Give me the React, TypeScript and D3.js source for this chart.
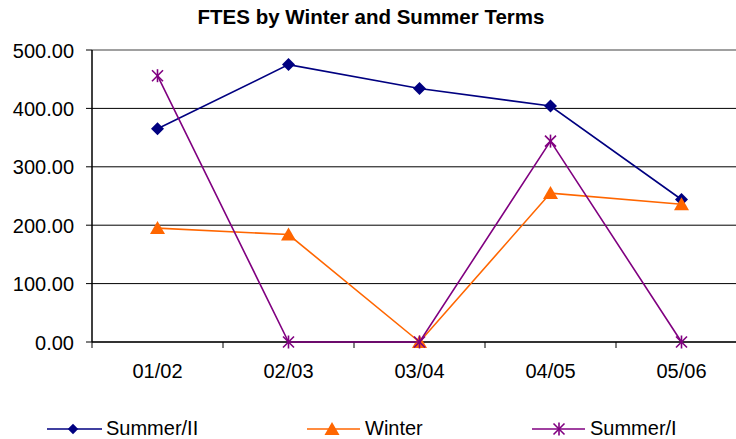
import React from "react";
import * as d3 from "d3";

const categories = ["01/02", "02/03", "03/04", "04/05", "05/06"];
const summerII = [365, 475, 434, 404, 244];
const winter = [195, 184, 0, 255, 236];
const summerI = [456, 0, 0, 344, 0];
const yTicks = [0, 100, 200, 300, 400, 500];
const seriesNames = ["Summer/II", "Winter", "Summer/I"];
const title = "FTES by Winter and Summer Terms";

const W = 736;
const H = 439;
const FONT = "Arial, 'Liberation Sans', sans-serif";

function Marker({ kind, x, y, color, size = 1 }: { kind: string; x: number; y: number; color: string; size?: number }) {
  if (kind === "diamond") {
    const r = 6.5 * size;
    return <path d={`M${x},${y - r}L${x + r},${y}L${x},${y + r}L${x - r},${y}Z`} fill={color} />;
  }
  if (kind === "triangle") {
    return <path d={`M${x},${y - 7}L${x + 7.5},${y + 6}L${x - 7.5},${y + 6}Z`} fill={color} />;
  }
  const r = 5.5;
  return (
    <g stroke={color} strokeWidth={1.6}>
      <line x1={x - r} y1={y - r} x2={x + r} y2={y + r} />
      <line x1={x - r} y1={y + r} x2={x + r} y2={y - r} />
      <line x1={x} y1={y - r - 1} x2={x} y2={y + r + 1} />
    </g>
  );
}

export default function App() {
  const x = d3.scaleBand<string>().domain(categories).range([92, 747]).padding(0);
  const y = d3.scaleLinear().domain([0, 500]).range([342, 50]);
  const cx = (c: string) => (x(c) as number) + x.bandwidth() / 2;

  const series = [
    { name: seriesNames[0], values: summerII, color: "#000080", kind: "diamond" },
    { name: seriesNames[1], values: winter, color: "#FF6600", kind: "triangle" },
    { name: seriesNames[2], values: summerI, color: "#800080", kind: "star" },
  ];

  const line = d3
    .line<number>()
    .x((_, i) => cx(categories[i]))
    .y((v) => y(v));

  const legendPos = [
    { x1: 47, x2: 102, mx: 73, tx: 106 },
    { x1: 307, x2: 360, mx: 332, tx: 365 },
    { x1: 532, x2: 585, mx: 559, tx: 590 },
  ];
  const ly = 429;

  return (
    <div style={{ position: "fixed", left: 0, top: 0 }}>
      <svg width={W} height={H} style={{ display: "block", background: "#fff" }} fontFamily={FONT}>
        <text x={371} y={24} textAnchor="middle" fontWeight="bold" fontSize={20.5} fill="#000">
          {title}
        </text>
        {yTicks.map((t) => (
          <g key={t}>
            <line
              x1={92}
              x2={747}
              y1={y(t)}
              y2={y(t)}
              stroke={t === 500 ? "#808080" : t === 0 ? "#333" : "#000"}
              strokeWidth={t === 0 ? 2 : t === 500 ? 1.5 : 1}
            />
            <line x1={86} x2={92} y1={y(t)} y2={y(t)} stroke="#000" strokeWidth={1} />
            <text x={74} y={y(t) + 7.5} textAnchor="end" fontSize={20} fill="#000">
              {t.toFixed(2)}
            </text>
          </g>
        ))}
        <line x1={92} x2={92} y1={50} y2={342} stroke="#000" strokeWidth={1.5} />
        {categories.map((c) => (
          <g key={c}>
            <line x1={x(c) as number} x2={x(c) as number} y1={342} y2={348} stroke="#000" strokeWidth={1} />
            <text x={cx(c)} y={378} textAnchor="middle" fontSize={20} fill="#000">
              {c}
            </text>
          </g>
        ))}
        {series.map((s) => (
          <g key={s.name}>
            <path d={line(s.values) as string} fill="none" stroke={s.color} strokeWidth={1.6} />
            {s.values.map((v, i) => (
              <Marker key={i} kind={s.kind} x={cx(categories[i])} y={y(v)} color={s.color} />
            ))}
          </g>
        ))}
        {series.map((s, i) => {
          const p = legendPos[i];
          return (
            <g key={s.name}>
              <line x1={p.x1} x2={p.x2} y1={ly} y2={ly} stroke={s.color} strokeWidth={1.6} />
              <Marker kind={s.kind} x={p.mx} y={ly} color={s.color} size={0.8} />
              <text x={p.tx} y={ly + 6} fontSize={20} fill="#000">
                {s.name}
              </text>
            </g>
          );
        })}
      </svg>
    </div>
  );
}
